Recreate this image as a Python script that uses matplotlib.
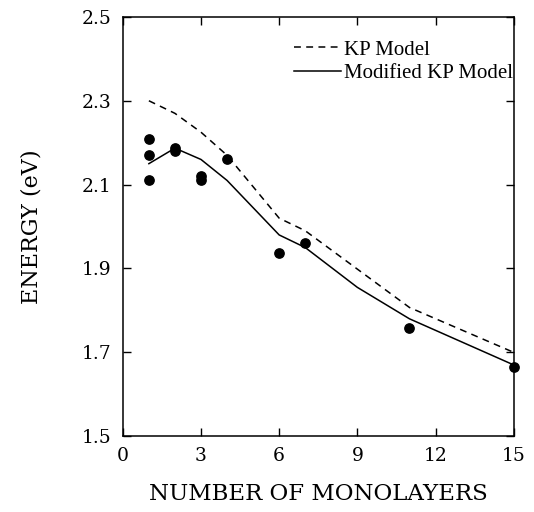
import matplotlib
matplotlib.use("Agg")
import matplotlib.pyplot as plt

plt.rcParams['font.family'] = ['DejaVu Serif']

# KP model (dashed) and modified KP model (solid)
kp_x = [1, 2, 3, 4, 6, 7, 11, 15]
kp_y = [2.30, 2.27, 2.225, 2.17, 2.02, 1.99, 1.807, 1.70]
mkp_x = [1, 2, 3, 4, 6, 7, 9, 11, 15]
mkp_y = [2.15, 2.187, 2.16, 2.11, 1.98, 1.95, 1.855, 1.78, 1.67]

# measured points
exp_x = [1, 1, 1, 2, 2, 3, 3, 4, 6, 7, 11, 15]
exp_y = [2.21, 2.17, 2.11, 2.18, 2.187, 2.12, 2.11, 2.16, 1.938, 1.96, 1.757, 1.665]

fig = plt.figure(figsize=(5.34, 5.12), dpi=100)
ax = fig.add_axes([0.230, 0.148, 0.732, 0.819])

ax.plot(kp_x, kp_y, color='black', linestyle=(0, (4.5, 3.5)), linewidth=1.1, label='KP Model')
ax.plot(mkp_x, mkp_y, color='black', linestyle='-', linewidth=1.1, label='Modified KP Model')
ax.scatter(exp_x, exp_y, color='black', s=45, zorder=3, clip_on=False)

ax.set_xlim(0, 15)
ax.set_ylim(1.5, 2.5)
ax.set_xticks([0, 3, 6, 9, 12, 15])
ax.set_yticks([1.5, 1.7, 1.9, 2.1, 2.3, 2.5])
ax.set_yticklabels(['1.5', '1.7', '1.9', '2.1', '2.3', '2.5'])
ax.tick_params(direction='in', top=True, right=True, length=6, width=1, labelsize=13.5)
ax.tick_params(axis='x', pad=8)
ax.tick_params(axis='y', pad=8)
for s in ax.spines.values():
    s.set_linewidth(1.1)

ax.set_xlabel('NUMBER OF MONOLAYERS', fontsize=16.5, labelpad=13)
ax.set_ylabel('ENERGY (eV)', fontsize=16, labelpad=28)

leg = ax.legend(loc='upper right', bbox_to_anchor=(0.997, 0.945), frameon=False,
                prop={'family': 'Liberation Serif', 'size': 15}, handlelength=2.3,
                handletextpad=0.1, borderaxespad=0, borderpad=0, labelspacing=0.2)

fig.savefig('out.png', dpi=100)
